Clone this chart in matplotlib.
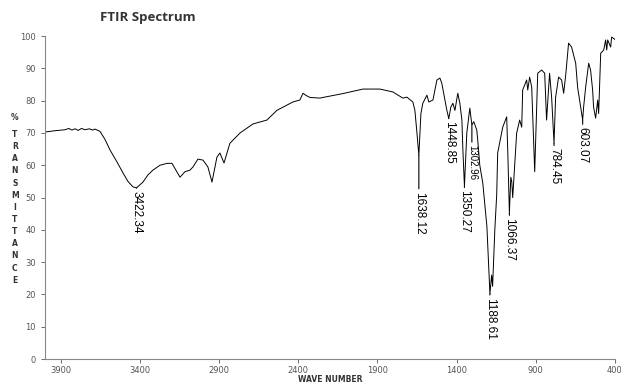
import matplotlib.pyplot as plt
import numpy as np

# spectrum (wavenumber, % transmittance)
wavenumber = [4000, 3937, 3874, 3850, 3830, 3811, 3790, 3770, 3747, 3720, 3700, 3684, 3653, 3621, 3589,
              3545, 3507, 3476, 3444, 3422, 3381, 3350, 3318, 3274, 3229, 3198, 3173, 3147, 3116,
              3084, 3065, 3034, 3002, 2971, 2945, 2914, 2895, 2869, 2832, 2768, 2686, 2598, 2535,
              2434, 2390, 2370, 2350, 2326, 2263, 2244, 2118, 1991, 1884, 1802, 1739, 1714, 1676,
              1663, 1650, 1638, 1625, 1613, 1587, 1575, 1549, 1524, 1505, 1493, 1474, 1461, 1449,
              1436, 1423, 1410, 1392, 1379, 1366, 1360, 1350, 1335, 1316, 1303, 1291, 1272, 1266,
              1253, 1234, 1208, 1196, 1189, 1178, 1172, 1158, 1146, 1140, 1108, 1083, 1076, 1066,
              1057, 1051, 1045, 1020, 1001, 988, 982, 957, 950, 938, 925, 906, 887, 862, 843, 831,
              812, 799, 784, 774, 755, 736, 723, 710, 692, 673, 647, 635, 603, 597, 584, 565, 553,
              540, 534, 521, 508, 502, 489, 470, 458, 451, 445, 426, 420, 400]
transmittance = [70.3, 70.7, 71.0, 71.4, 70.9, 71.3, 70.8, 71.4, 71.0, 71.3, 70.9, 71.2, 70.5, 68.0, 64.7,
                 61.0, 57.6, 55.0, 53.3, 53.0, 54.8, 57.0, 58.5, 60.0, 60.6, 60.6, 58.5, 56.3, 58.0,
                 58.5, 59.5, 61.9, 61.6, 59.5, 54.8, 62.5, 63.8, 60.7, 66.8, 70.0, 72.8, 74.0, 77.0,
                 79.6, 80.2, 82.3, 81.6, 81.0, 80.8, 81.0, 82.2, 83.6, 83.6, 82.7, 80.8, 81.1, 79.6,
                 77.0, 70.0, 63.0, 76.0, 79.2, 81.7, 79.6, 80.2, 86.4, 87.0, 85.4, 80.5, 77.0, 74.5,
                 78.0, 79.2, 77.0, 82.3, 79.2, 74.0, 65.0, 53.5, 70.0, 77.7, 72.5, 73.5, 70.9, 67.8,
                 60.0, 54.5, 41.0, 28.0, 20.2, 26.0, 22.5, 40.0, 51.0, 63.8, 71.8, 75.0, 64.0, 45.2,
                 56.3, 55.0, 50.0, 70.0, 74.0, 71.8, 83.3, 86.4, 83.3, 87.3, 84.2, 58.0, 88.5, 89.5,
                 88.5, 74.0, 88.5, 81.0, 66.8, 81.0, 87.3, 86.4, 82.3, 88.0, 97.8, 96.6, 91.6, 84.2,
                 74.0, 78.0, 84.2, 91.6, 89.5, 83.3, 78.0, 74.6, 80.2, 76.0, 94.7, 95.7, 98.8, 95.7,
                 98.8, 96.6, 99.7, 99.0]

# labelled peaks
peak_labels = ["3422.34", "1638.12", "1448.85", "1350.27", "1302.96", "1188.61", "1066.37", "784.45", "603.07"]
peak_pos = [3422, 1638, 1449, 1350, 1303, 1189, 1066, 784, 603]
peak_val = [53.0, 63.0, 74.5, 53.5, 72.5, 20.2, 45.2, 66.8, 74.0]

fig = plt.figure(figsize=(6.21, 3.84), dpi=100)
ax = fig.add_axes([0.0725, 0.065, 0.9175, 0.841])

ax.plot(wavenumber, transmittance, color="black", lw=0.7)

# gap (pixels) between peak tip and label, and label size
gaps = [3, 36, 3, 4, 20, 4, 5, 5, 7]
sizes = [8.5, 8.5, 8.5, 8.5, 7, 8.5, 8.5, 8.5, 8.5]
for lab, x, y, g, s in zip(peak_labels, peak_pos, peak_val, gaps, sizes):
    ax.annotate(lab, xy=(x, y), xytext=(0, -g), textcoords="offset pixels",
                rotation=270, ha="center", va="top", fontsize=s,
                family="Liberation Sans",
                arrowprops=dict(arrowstyle="-", lw=0.8, color="black",
                                shrinkA=0, shrinkB=0))

ax.set_xlim(4000, 400)
ax.set_ylim(0, 100)
ax.set_xticks(np.arange(3900, 399, -500))
ax.set_yticks(np.arange(0, 101, 10))
ax.tick_params(labelsize=6, colors="#555555", length=3, width=0.6)
ax.tick_params(axis="x", pad=2)

for side in ["top", "right"]:
    ax.spines[side].set_visible(False)
for side in ["left", "bottom"]:
    ax.spines[side].set_color("#888888")
    ax.spines[side].set_linewidth(0.8)

fig.text(0.161, 0.955, "FTIR Spectrum", fontsize=9.5, fontweight="bold",
         family="Open Sans", ha="left", va="center", color="#333333")
fig.text(0.531, 0.0, "WAVE NUMBER", fontsize=5.5, fontweight="bold",
         ha="center", va="bottom", color="#333333")
fig.text(0.024, 0.695, "%", fontsize=5.5, fontweight="bold",
         ha="center", va="center", color="#333333")
fig.text(0.024, 0.46, "\n".join("TRANSMITTANCE"), fontsize=5.5, fontweight="bold",
         ha="center", va="center", color="#333333", linespacing=1.45)

fig.savefig("out.png", dpi=100)
